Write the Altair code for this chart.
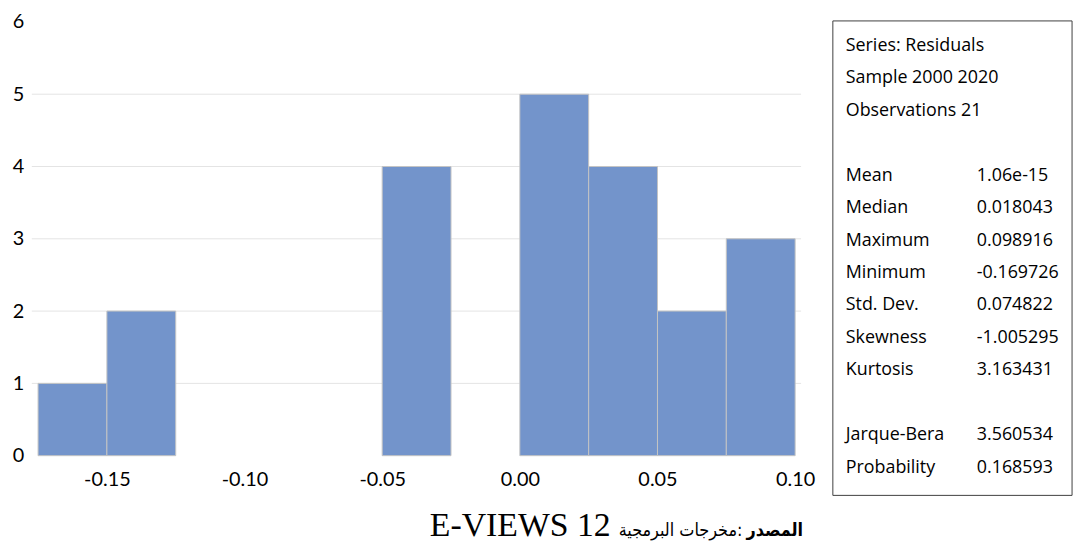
import altair as alt
import pandas as pd

# Histogram bins (residuals) and counts
bin_start = [-0.175, -0.15, -0.125, -0.10, -0.075, -0.05, -0.025, 0.0, 0.025, 0.05, 0.075]
bin_end = [-0.15, -0.125, -0.10, -0.075, -0.05, -0.025, 0.0, 0.025, 0.05, 0.075, 0.10]
counts = [1, 2, 0, 0, 0, 4, 0, 5, 4, 2, 3]

x_ticks = [-0.15, -0.10, -0.05, 0.0, 0.05, 0.10]
y_ticks = [0, 1, 2, 3, 4, 5, 6]
grid_values = [1, 2, 3, 4, 5]

header_lines = ["Series: Residuals", "Sample 2000 2020", "Observations 21"]
stat_names = ["Mean", "Median", "Maximum", "Minimum", "Std. Dev.", "Skewness", "Kurtosis"]
stat_values = ["1.06e-15", "0.018043", "0.098916", "-0.169726", "0.074822", "-1.005295", "3.163431"]
test_names = ["Jarque-Bera", "Probability"]
test_values = ["3.560534", "0.168593"]

caption_latin = "E-VIEWS 12"
caption_arabic = "مخرجات البرمجية:"
caption_bold = "المصدر"

W, H = 775, 437
FONT = "Lato"
STAT_FONT = "Open Sans"
AR_FONT = "DejaVu Sans Condensed"
BAR = "#7394CB"

hist = pd.DataFrame({"start": bin_start, "end": bin_end, "count": counts})
hist = hist[hist["count"] > 0]

xscale = alt.Scale(domain=[-0.17727, 0.10216], nice=False, zero=False)
yscale = alt.Scale(domain=[0, 6], nice=False)

y_axis = alt.Axis(values=y_ticks, title=None, grid=False, domain=False,
                  ticks=False, labelFont=FONT, labelFontSize=20,
                  labelColor="#000000", labelPadding=8)
x_axis = alt.Axis(values=x_ticks, title=None, grid=False, domain=False, ticks=False,
                  labelExpr="replace(format(datum.value, '.2f'), '\u2212', '-')",
                  labelFont=FONT, labelFontSize=20, labelColor="#000000",
                  labelPadding=14)

grid = alt.Chart(pd.DataFrame({"g": grid_values})).mark_rule(
    color="#e4e4e4", strokeWidth=1
).encode(y=alt.Y("g:Q", scale=yscale, axis=y_axis))

bars = alt.Chart(hist).mark_rect(
    color=BAR, stroke="#c4c4c4", strokeWidth=1
).encode(
    x=alt.X("start:Q", scale=xscale, axis=x_axis),
    x2="end:Q",
    y=alt.Y("count:Q", scale=yscale, axis=y_axis),
    y2=alt.datum(0),
)

# Statistics box (positions computed in pixels relative to plot origin)
rows = []
line_h = 32.7
y0 = 44 - 19.9
for i, t in enumerate(header_lines):
    rows.append({"label": t, "value": "", "py": y0 + i * line_h})
for j, (n, v) in enumerate(zip(stat_names, stat_values)):
    rows.append({"label": n, "value": v, "py": y0 + (4 + j) * line_h})
for j, (n, v) in enumerate(zip(test_names, test_values)):
    rows.append({"label": n, "value": v, "py": y0 + (12 + j) * line_h})
stats = pd.DataFrame(rows)

box = alt.Chart(pd.DataFrame({"a": [0]})).mark_rect(
    fill="white", stroke="#404040", strokeWidth=1
).encode(x=alt.value(807), x2=alt.value(1048), y=alt.value(-1), y2=alt.value(477))

stat_labels = alt.Chart(stats).mark_text(
    align="left", baseline="middle", font=STAT_FONT, fontSize=18, color="#000000"
).encode(x=alt.value(820), y=alt.Y("py:Q", scale=None), text="label:N")

stat_vals = alt.Chart(stats).mark_text(
    align="left", baseline="middle", font=STAT_FONT, fontSize=18, color="#000000"
).encode(x=alt.value(952), y=alt.Y("py:Q", scale=None), text="value:N")

cap_latin = alt.Chart(pd.DataFrame({"t": [caption_latin]})).mark_text(
    align="left", baseline="alphabetic", font="Liberation Serif", fontSize=34,
    color="#000000"
).encode(x=alt.value(401), y=alt.value(518), text="t:N")

cap_arabic = alt.Chart(pd.DataFrame({"t": [caption_arabic]})).mark_text(
    align="right", baseline="alphabetic", font=AR_FONT, fontSize=18,
    color="#000000"
).encode(x=alt.value(716), y=alt.value(518), text="t:N")

cap_bold = alt.Chart(pd.DataFrame({"t": [caption_bold]})).mark_text(
    align="right", baseline="alphabetic", font=AR_FONT, fontSize=18,
    fontWeight="bold", color="#000000"
).encode(x=alt.value(777), y=alt.value(518), text="t:N")

chart = alt.layer(grid, bars, box, stat_labels, stat_vals, cap_latin, cap_arabic, cap_bold).properties(
    width=W, height=H,
    autosize=alt.AutoSizeParams(type="none"),
    padding={"left": 24, "top": 12, "right": 281, "bottom": 92},
    background="white",
).configure_view(stroke=None)

chart.save("out.html", embed_options={"renderer": "svg", "actions": False})
